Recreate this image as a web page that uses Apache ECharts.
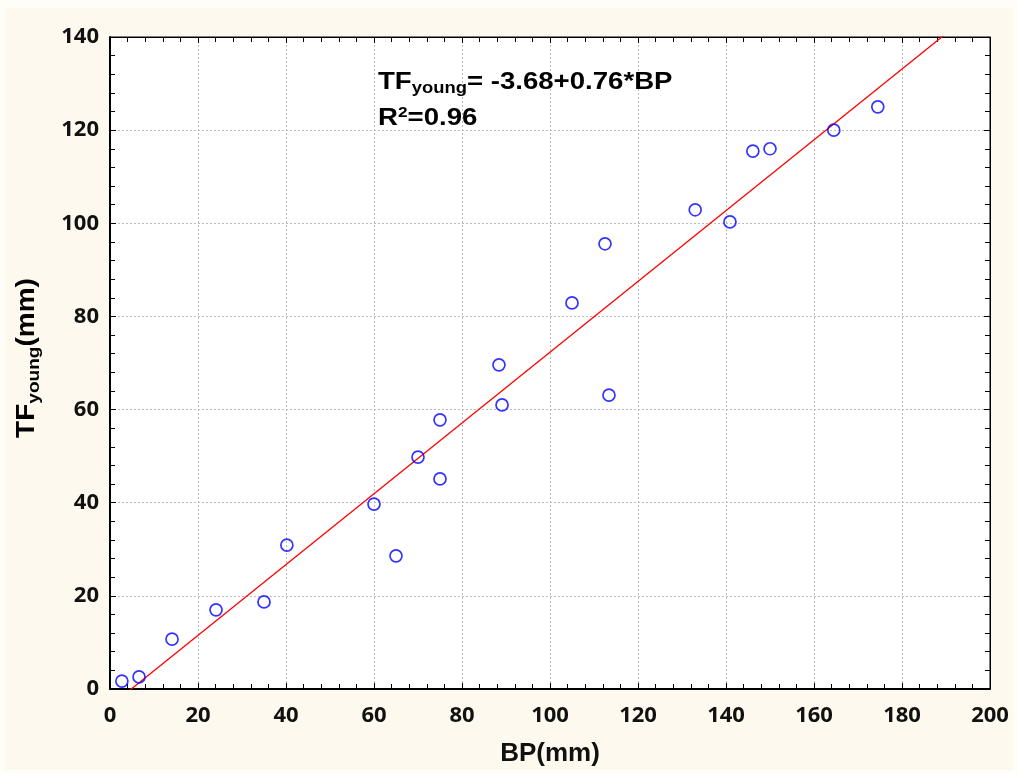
<!DOCTYPE html>
<html>
<head>
<meta charset="utf-8">
<script src="https://cdn.jsdelivr.net/npm/echarts@6/dist/echarts.min.js"></script>
<style>
html,body{margin:0;padding:0;background:#fffdf8;}
#wrap{position:absolute;left:5px;top:8px;width:1008px;height:762px;background:#fdf9ee;}
#c{position:absolute;left:0;top:0;width:1018px;height:773px;}
</style>
</head>
<body>
<div id="wrap"></div>
<div id="c"></div>
<script>
// Observed data: BP (mm) vs TF young (mm)
const bpValues = [2.7, 6.6, 14.1, 24.1, 35.0, 40.2, 60.0, 65.0, 70.0, 75.0, 75.0, 88.4, 89.1, 105.0, 112.5, 113.4, 133.0, 140.9, 146.1, 150.0, 164.5, 174.5];
const tfValues = [1.7, 2.6, 10.7, 17.0, 18.7, 30.9, 39.7, 28.6, 49.8, 45.1, 57.8, 69.6, 61.0, 82.9, 95.6, 63.1, 102.9, 100.3, 115.5, 116.0, 120.0, 125.0];
// Regression line given in the chart
const intercept = -3.68;
const slope = 0.76;
const lineX = [0, 200];
const xTicks = [0, 20, 40, 60, 80, 100, 120, 140, 160, 180, 200];
const yTicks = [0, 20, 40, 60, 80, 100, 120, 140];

const scatterData = bpValues.map((x, i) => [x, tfValues[i]]);
const lineData = lineX.map(x => [x, intercept + slope * x]);

const chart = echarts.init(document.getElementById('c'), null, {renderer: 'canvas'});
const tickFont = {fontFamily: '"Open Sans", "Noto Sans", sans-serif', fontWeight: 'bold', fontSize: 22, color: '#111'};
const minorTick = {show: true, splitNumber: 5, length: 5, lineStyle: {color: '#000', width: 1}};
const AR = '"Liberation Sans", Arial, sans-serif';

function baseX(pos, showLabel) {
  return {
    type: 'value', position: pos, min: 0, max: 200, interval: 20,
    axisLine: {show: true, onZero: false, lineStyle: {color: '#000', width: showLabel ? 2 : 1}},
    axisTick: {show: true, inside: true, length: 6, lineStyle: {color: '#000', width: 1}},
    minorTick: minorTick,
    axisLabel: showLabel ? Object.assign({margin: 16}, tickFont) : {show: false},
    splitLine: {show: showLabel, lineStyle: {color: '#bbb', type: [2, 2], width: 1}},
    minorSplitLine: {show: false}
  };
}
function baseY(pos, showLabel) {
  return {
    type: 'value', position: pos, min: 0, max: 140, interval: 20,
    axisLine: {show: true, onZero: false, lineStyle: {color: '#000', width: showLabel ? 2 : 1}},
    axisTick: {show: true, inside: true, length: 6, lineStyle: {color: '#000', width: 1}},
    minorTick: minorTick,
    axisLabel: showLabel ? Object.assign({margin: 11}, tickFont) : {show: false},
    splitLine: {show: showLabel, lineStyle: {color: '#bbb', type: [2, 2], width: 1}}
  };
}

const xMain = baseX('bottom', true);
xMain.name = 'BP(mm)';
xMain.nameLocation = 'middle';
xMain.nameGap = 52;
xMain.nameTextStyle = {fontFamily: AR, fontWeight: 'bold', fontSize: 26, color: '#111'};

chart.setOption({
  animation: false,
  backgroundColor: 'transparent',
  grid: {left: 110, right: 28, top: 37, bottom: 84, show: true, backgroundColor: '#ffffff', borderColor: '#000', borderWidth: 1},
  xAxis: [xMain, baseX('top', false)],
  yAxis: [baseY('left', true), baseY('right', false)],
  series: [
    {
      type: 'line', data: lineData, xAxisIndex: 0, yAxisIndex: 0,
      showSymbol: false, clip: true,
      lineStyle: {color: '#ff0000', width: 1.3}, z: 3
    },
    {
      type: 'scatter', data: scatterData, xAxisIndex: 0, yAxisIndex: 0,
      symbol: 'circle', symbolSize: 12,
      itemStyle: {color: 'rgba(255,255,255,0)', borderColor: '#0000ff', borderWidth: 1.7}, z: 4
    }
  ],
  graphic: [
    {
      type: 'text', x: 378, y: 67, scaleX: 1.15, z: 10,
      style: {
        rich: {
          m: {fontFamily: AR, fontWeight: 'bold', fontSize: 24, fill: '#000'},
          s: {fontFamily: AR, fontWeight: 'bold', fontSize: 16, fill: '#000', padding: [14, 0, 0, 0]}
        },
        text: '{m|TF}{s|young}{m|= -3.68+0.76*BP}'
      }
    },
    {
      type: 'text', x: 378, y: 105, scaleX: 1.15, z: 10,
      style: {
        rich: {
          m: {fontFamily: AR, fontWeight: 'bold', fontSize: 24, fill: '#000'},
          p: {fontFamily: AR, fontWeight: 'bold', fontSize: 15, fill: '#000', padding: [0, 0, 12, 0]}
        },
        text: '{m|R}{p|2}{m|=0.96}'
      }
    },
    {
      type: 'text', x: 27, y: 358, rotation: Math.PI / 2, scaleX: 1.12, z: 10,
      style: {
        align: 'center', verticalAlign: 'middle',
        rich: {
          m: {fontFamily: AR, fontWeight: 'bold', fontSize: 25, fill: '#000'},
          s: {fontFamily: AR, fontWeight: 'bold', fontSize: 17, fill: '#000', padding: [14, 0, 0, 0]}
        },
        text: '{m|TF}{s|young}{m|(mm)}'
      }
    }
  ]
});
</script>
</body>
</html>
